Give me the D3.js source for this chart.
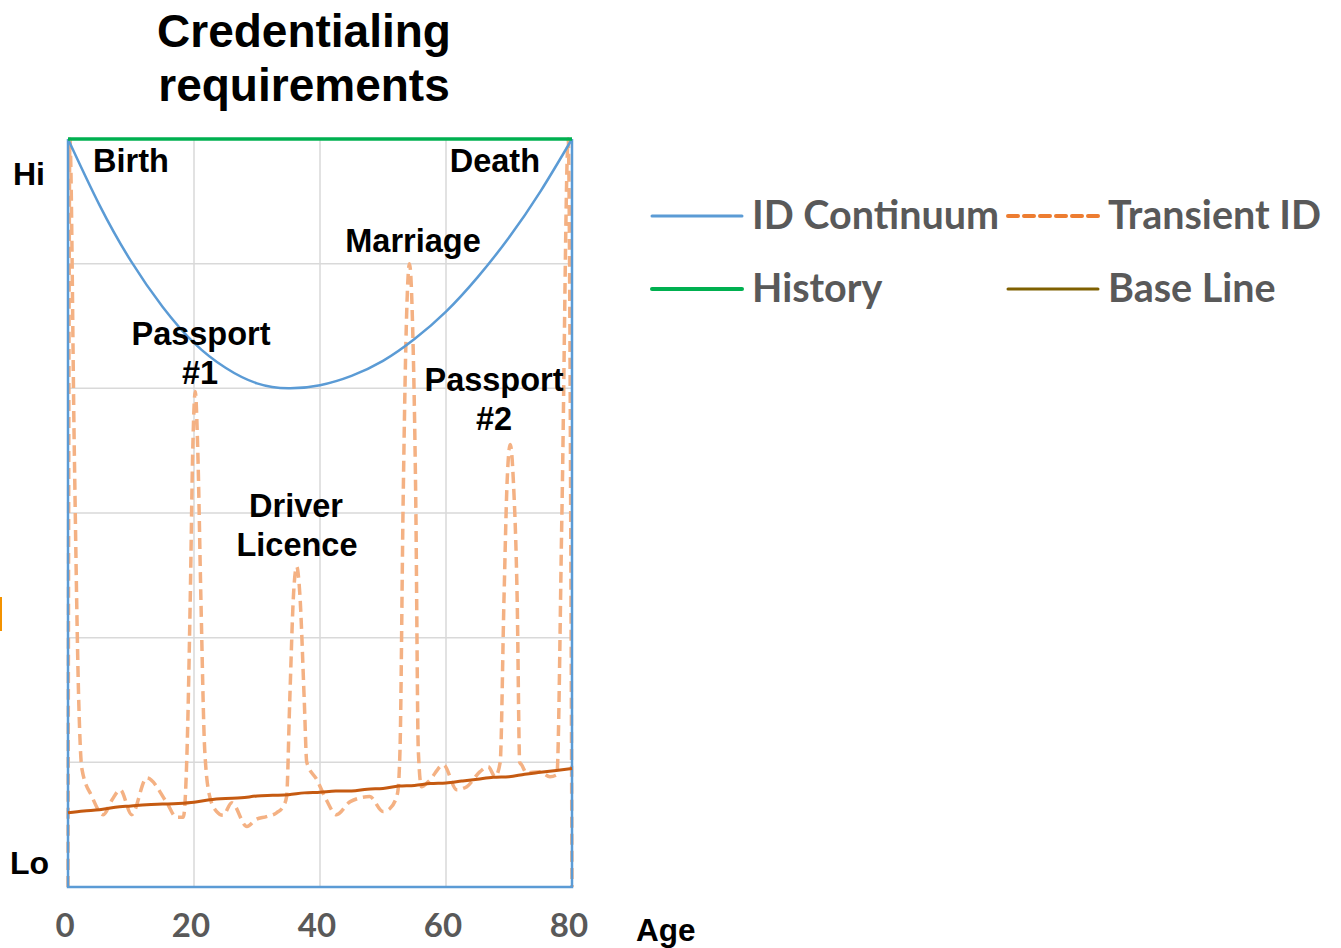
<!DOCTYPE html>
<html>
<head>
<meta charset="utf-8">
<script src="https://cdn.jsdelivr.net/npm/d3@7"></script>
<style>
  html, body { margin: 0; padding: 0; background: #ffffff; }
  svg { display: block; }
</style>
</head>
<body>
<svg id="chart" width="1341" height="948"></svg>
<script>
// ---------------- data ----------------
const xTicks = [0, 20, 40, 60, 80];
const yGridValues = [0, 20, 40, 60, 80, 100, 120];

const continuumAge   = [0, 5, 10, 15, 20, 25, 30, 35, 40, 45, 50, 55, 60, 65, 70, 75, 80];
const continuumValue = [120, 109.4, 100.4, 93.1, 87.3, 83.3, 80.8, 80, 80.5, 82.0, 84.4, 87.9, 92.3, 97.8, 104.2, 111.6, 120];

const historyAge   = [0, 80];
const historyValue = [120, 120];

const transientAge = [0, 0.3, 1.0, 1.7, 2.2, 3.8, 5.6, 7.0, 8.3, 10.1, 12.5, 15.7, 17.2, 18.3,
  18.9, 19.4, 19.8, 20.2, 20.6, 21.1, 21.7, 22.5, 23.6, 24.6, 26.0, 28.4, 29.8, 31.5, 33.1, 34.2, 34.7,
  35.2, 35.8, 36.3, 36.8, 37.5, 37.9, 39.5, 41.0, 42.6, 44.8, 47.9, 50.0, 51.1, 52.3,
  52.7, 53.2, 53.7, 54.2, 54.7, 55.2, 55.6, 56.1, 57.3, 59.6, 61.7, 63.3, 65.4, 66.7, 67.8,
  68.6, 69.2, 69.7, 70.2, 70.7, 71.3, 71.7, 72.0, 72.8, 74.9, 76.5, 77.6, 78.4, 79.4, 80];
const transientValue = [0, 120, 70, 30, 19, 14.5, 11.6, 14, 15.6, 11.6, 17.5, 13.5, 11.2, 11.2,
  22, 46, 70, 79.5, 70, 46, 22, 14.5, 12.1, 11.5, 13.5, 9.7, 10.8, 11.3, 11.9, 13, 14.5,
  30, 47, 51.4, 47, 30, 20, 17.2, 14, 11.6, 13.7, 14.5, 12.1, 12.6, 15,
  22, 62, 90, 100, 90, 62, 22, 16.1, 17, 19.6, 15.6, 16.1, 18.5, 19.3, 17.7,
  20, 46, 65, 71, 65, 46, 20, 19.6, 18.3, 18.5, 17.7, 18, 60, 120, 0];

const baselineAge   = [0, 2.5, 5, 7.5, 10, 12.5, 15, 17.5, 20, 22.5, 25, 27.5, 30, 32.5, 35, 37.5, 40,
  42.5, 45, 47.5, 50, 52.5, 55, 57.5, 60, 62.5, 65, 67.5, 70, 72.5, 75, 77.5, 80];
const baselineValue = [11.9, 12.2, 12.4, 12.8, 13.0, 13.2, 13.3, 13.4, 13.6, 14.0, 14.2, 14.3, 14.6, 14.7, 14.8, 15.1, 15.2,
  15.4, 15.4, 15.7, 15.8, 16.2, 16.3, 16.6, 16.7, 17.0, 17.3, 17.6, 17.7, 18.1, 18.4, 18.7, 19.0];

const seriesNames = ["ID Continuum", "Transient ID", "History", "Base Line"];
const eventLabels = ["Birth", "Death", "Marriage", "Passport", "#1", "Driver", "Licence", "Passport", "#2"];

// ---------------- drawing ----------------
const svg = d3.select("#chart");
const x = d3.scaleLinear().domain([0, 80]).range([68, 572]);
const y = d3.scaleLinear().domain([0, 120]).range([887, 139]);

const zip = (a, b) => a.map((v, i) => [v, b[i]]);
const line = d3.line().x(d => x(d[0])).y(d => y(d[1]));

const arial = "'Liberation Sans', Arial, sans-serif";
const calibri = "Lato, 'Open Sans', sans-serif";

// gridlines
svg.append("g").selectAll("line.h").data(yGridValues).join("line")
  .attr("x1", x(0)).attr("x2", x(80))
  .attr("y1", d => y(d)).attr("y2", d => y(d))
  .attr("stroke", "#d9d9d9").attr("stroke-width", 1.5);
svg.append("g").selectAll("line.v").data(xTicks).join("line")
  .attr("x1", d => x(d)).attr("x2", d => x(d))
  .attr("y1", y(0)).attr("y2", y(120))
  .attr("stroke", "#d9d9d9").attr("stroke-width", 1.5);

// Transient ID (dashed)
svg.append("path")
  .datum(zip(transientAge, transientValue))
  .attr("d", line.curve(d3.curveMonotoneX))
  .attr("fill", "none")
  .attr("stroke", "#f4b183")
  .attr("stroke-width", 3.5)
  .attr("stroke-dasharray", "11,6");

// frame (blue) left, right, bottom
const frame = [[0, 120], [0, 0], [80, 0], [80, 120]];
svg.append("path")
  .datum(frame)
  .attr("d", d3.line().x(d => x(d[0])).y(d => y(d[1])).curve(d3.curveLinear))
  .attr("fill", "none")
  .attr("stroke", "#5b9bd5")
  .attr("stroke-width", 2.5);

// ID Continuum
svg.append("path")
  .datum(zip(continuumAge, continuumValue))
  .attr("d", d3.line().x(d => x(d[0])).y(d => y(d[1])).curve(d3.curveNatural))
  .attr("fill", "none")
  .attr("stroke", "#5b9bd5")
  .attr("stroke-width", 2.5);

// Base line
svg.append("path")
  .datum(zip(baselineAge, baselineValue))
  .attr("d", d3.line().x(d => x(d[0])).y(d => y(d[1])).curve(d3.curveMonotoneX))
  .attr("fill", "none")
  .attr("stroke", "#c55a11")
  .attr("stroke-width", 3);

// History
svg.append("path")
  .datum(zip(historyAge, historyValue))
  .attr("d", d3.line().x(d => x(d[0])).y(d => y(d[1])))
  .attr("fill", "none")
  .attr("stroke", "#00b050")
  .attr("stroke-width", 3.5);

// x tick labels
svg.append("g").selectAll("text").data(xTicks).join("text")
  .attr("x", d => x(d) - 3).attr("y", 937)
  .attr("text-anchor", "middle")
  .attr("font-family", calibri).attr("font-weight", "bold")
  .attr("font-size", 33).attr("fill", "#595959")
  .text(d => d);

// Age
svg.append("text").attr("x", 636).attr("y", 941)
  .attr("font-family", arial).attr("font-weight", "bold").attr("font-size", 31.5)
  .attr("fill", "#000").text("Age");

// Hi / Lo
svg.append("text").attr("x", 13).attr("y", 185)
  .attr("font-family", arial).attr("font-weight", "bold").attr("font-size", 32).text("Hi");
svg.append("text").attr("x", 10).attr("y", 874)
  .attr("font-family", arial).attr("font-weight", "bold").attr("font-size", 32).text("Lo");

// stray orange mark at left edge
svg.append("rect").attr("x", 0).attr("y", 597).attr("width", 2).attr("height", 34).attr("fill", "#f39200");

// title
const title = svg.append("text")
  .attr("text-anchor", "middle")
  .attr("font-family", arial).attr("font-weight", "bold").attr("font-size", 46).attr("fill", "#000");
title.append("tspan").attr("x", 304).attr("y", 47).text("Credentialing");
title.append("tspan").attr("x", 304).attr("y", 101).text("requirements");

// annotations
const ann = (txt, xx, yy, anchor) => svg.append("text")
  .attr("x", xx).attr("y", yy).attr("text-anchor", anchor || "middle")
  .attr("font-family", arial).attr("font-weight", "bold").attr("font-size", 32.5)
  .attr("fill", "#000").text(txt);
ann(eventLabels[0], 93, 172, "start");
ann(eventLabels[1], 540, 172, "end");
ann(eventLabels[2], 413, 252);
ann(eventLabels[3], 201, 345);
ann(eventLabels[4], 200, 384);
ann(eventLabels[5], 296, 517);
ann(eventLabels[6], 297, 556);
ann(eventLabels[7], 494, 391);
ann(eventLabels[8], 494, 430);

// legend
const legendItems = [
  { name: seriesNames[0], x: 652, y: 216, color: "#5b9bd5", w: 3, dash: null },
  { name: seriesNames[1], x: 1008, y: 216, color: "#ed7d31", w: 4, dash: "10,6" },
  { name: seriesNames[2], x: 652, y: 289, color: "#00b050", w: 4, dash: null },
  { name: seriesNames[3], x: 1008, y: 289, color: "#7f6000", w: 3, dash: null }
];
const lg = svg.append("g").selectAll("g").data(legendItems).join("g");
lg.append("line")
  .attr("x1", d => d.x).attr("x2", d => d.x + 90)
  .attr("y1", d => d.y).attr("y2", d => d.y)
  .attr("stroke", d => d.color).attr("stroke-width", d => d.w)
  .attr("stroke-linecap", "round")
  .attr("stroke-dasharray", d => d.dash);
lg.append("text")
  .attr("x", d => d.x + 100).attr("y", d => d.y + 13)
  .attr("font-family", calibri).attr("font-weight", "bold").attr("font-size", 39.5)
  .attr("fill", "#595959")
  .text(d => d.name);
</script>
</body>
</html>
